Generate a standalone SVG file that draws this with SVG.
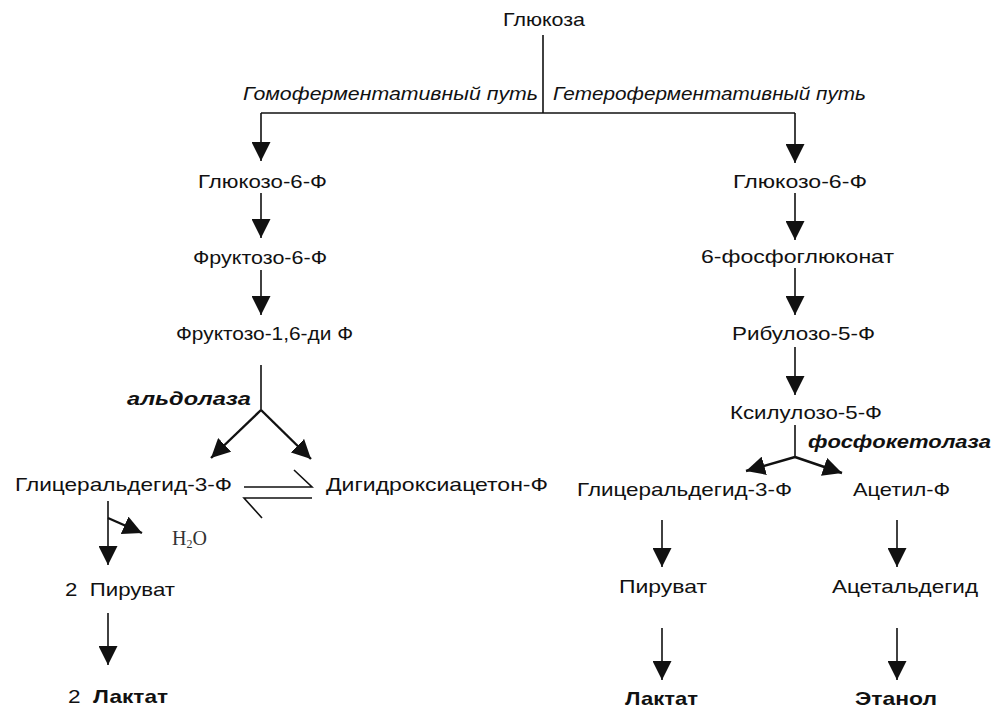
<svg xmlns="http://www.w3.org/2000/svg" width="999" height="709" viewBox="0 0 999 709">
<style>
text{font-family:"Liberation Sans",Arial,sans-serif;font-size:18.5px;fill:#111}
.it{font-style:italic}
.bi{font-style:italic;font-weight:bold}
.b{font-weight:bold}
.tm{font-family:"Liberation Serif","Times New Roman",serif;font-size:20px;fill:#333}
.c path{fill:none;stroke:#111;stroke-width:1.6}
.c .th{stroke-width:2.4}
</style>
<defs>
<marker id="ah" viewBox="0 0 18 18" refX="18" refY="9" markerWidth="19" markerHeight="19" markerUnits="userSpaceOnUse" orient="auto">
<path d="M0,0 L18,9 L0,18 z" fill="#111"/>
</marker>
</defs>
<rect width="999" height="709" fill="#fff"/>
<g class="c" id="connectors">
<path d="M543,35 V113"/>
<path d="M261,113 H795"/>
<path d="M261,113 V161" marker-end="url(#ah)"/>
<path d="M795,113 V163" marker-end="url(#ah)"/>
<path d="M261,193 V238" marker-end="url(#ah)"/>
<path d="M261,270 V315" marker-end="url(#ah)"/>
<path d="M261,365 V410"/>
<path class="th" d="M261,410 L211,458" marker-end="url(#ah)"/>
<path class="th" d="M261,410 L311,459" marker-end="url(#ah)"/>
<path d="M244,487 H312 L294,470"/>
<path d="M312,498 H244 L262,518"/>
<path d="M108,501 V565" marker-end="url(#ah)"/>
<path class="th" d="M108,518 L142,533" marker-end="url(#ah)"/>
<path d="M108,613 V665" marker-end="url(#ah)"/>
<path d="M795,193 V240" marker-end="url(#ah)"/>
<path d="M795,268 V315" marker-end="url(#ah)"/>
<path d="M795,347 V395" marker-end="url(#ah)"/>
<path d="M795,425 V457"/>
<path class="th" d="M795,457 L746,471" marker-end="url(#ah)"/>
<path class="th" d="M795,457 L842,473" marker-end="url(#ah)"/>
<path d="M662,520 V567" marker-end="url(#ah)"/>
<path d="M897,520 V567" marker-end="url(#ah)"/>
<path d="M662,628 V680" marker-end="url(#ah)"/>
<path d="M897,628 V680" marker-end="url(#ah)"/>
</g>
<g id="n-glucose"><text x="503" y="26" textLength="82" lengthAdjust="spacingAndGlyphs">Глюкоза</text></g>
<g id="l-homo"><text class="it" x="243" y="100" textLength="295" lengthAdjust="spacingAndGlyphs">Гомоферментативный путь</text></g>
<g id="l-hetero"><text class="it" x="553" y="100" textLength="313" lengthAdjust="spacingAndGlyphs">Гетероферментативный путь</text></g>
<g id="n-g6p-left"><text x="198" y="188" textLength="129" lengthAdjust="spacingAndGlyphs">Глюкозо-6-Ф</text></g>
<g id="n-f6p"><text x="193" y="264" textLength="134" lengthAdjust="spacingAndGlyphs">Фруктозо-6-Ф</text></g>
<g id="n-f16dp"><text x="176" y="340" textLength="177" lengthAdjust="spacingAndGlyphs">Фруктозо-1,6-ди Ф</text></g>
<g id="l-aldolase"><text class="bi" x="127" y="405" textLength="124" lengthAdjust="spacingAndGlyphs">альдолаза</text></g>
<g id="n-gap-left"><text x="15" y="491" textLength="217" lengthAdjust="spacingAndGlyphs">Глицеральдегид-3-Ф</text></g>
<g id="n-dhap"><text x="326" y="491" textLength="222" lengthAdjust="spacingAndGlyphs">Дигидроксиацетон-Ф</text></g>
<g id="n-h2o"><text class="tm" x="172" y="545">H<tspan font-size="12" dy="3">2</tspan><tspan dy="-3">O</tspan></text></g>
<g id="n-pyr-left"><text x="65" y="596" xml:space="preserve" textLength="110" lengthAdjust="spacingAndGlyphs">2  Пируват</text></g>
<g id="n-lac-left"><text x="68" y="703" xml:space="preserve" textLength="100" lengthAdjust="spacingAndGlyphs">2  <tspan class="b">Лактат</tspan></text></g>
<g id="n-g6p-right"><text x="733" y="188" textLength="134" lengthAdjust="spacingAndGlyphs">Глюкозо-6-Ф</text></g>
<g id="n-6pg"><text x="701" y="263" textLength="193" lengthAdjust="spacingAndGlyphs">6-фосфоглюконат</text></g>
<g id="n-ru5p"><text x="732" y="340" textLength="143" lengthAdjust="spacingAndGlyphs">Рибулозо-5-Ф</text></g>
<g id="n-xu5p"><text x="730" y="419" textLength="152" lengthAdjust="spacingAndGlyphs">Ксилулозо-5-Ф</text></g>
<g id="l-phosphoketolase"><text class="bi" x="808" y="448" textLength="183" lengthAdjust="spacingAndGlyphs">фосфокетолаза</text></g>
<g id="n-gap-right"><text x="577" y="496" textLength="215" lengthAdjust="spacingAndGlyphs">Глицеральдегид-3-Ф</text></g>
<g id="n-acp"><text x="853" y="496" textLength="97" lengthAdjust="spacingAndGlyphs">Ацетил-Ф</text></g>
<g id="n-pyr-right"><text x="619" y="593" textLength="88" lengthAdjust="spacingAndGlyphs">Пируват</text></g>
<g id="n-acald"><text x="832" y="593" textLength="146" lengthAdjust="spacingAndGlyphs">Ацетальдегид</text></g>
<g id="n-lac-right"><text class="b" x="625" y="705" textLength="73" lengthAdjust="spacingAndGlyphs">Лактат</text></g>
<g id="n-ethanol"><text class="b" x="855" y="705" textLength="82" lengthAdjust="spacingAndGlyphs">Этанол</text></g>
</svg>
